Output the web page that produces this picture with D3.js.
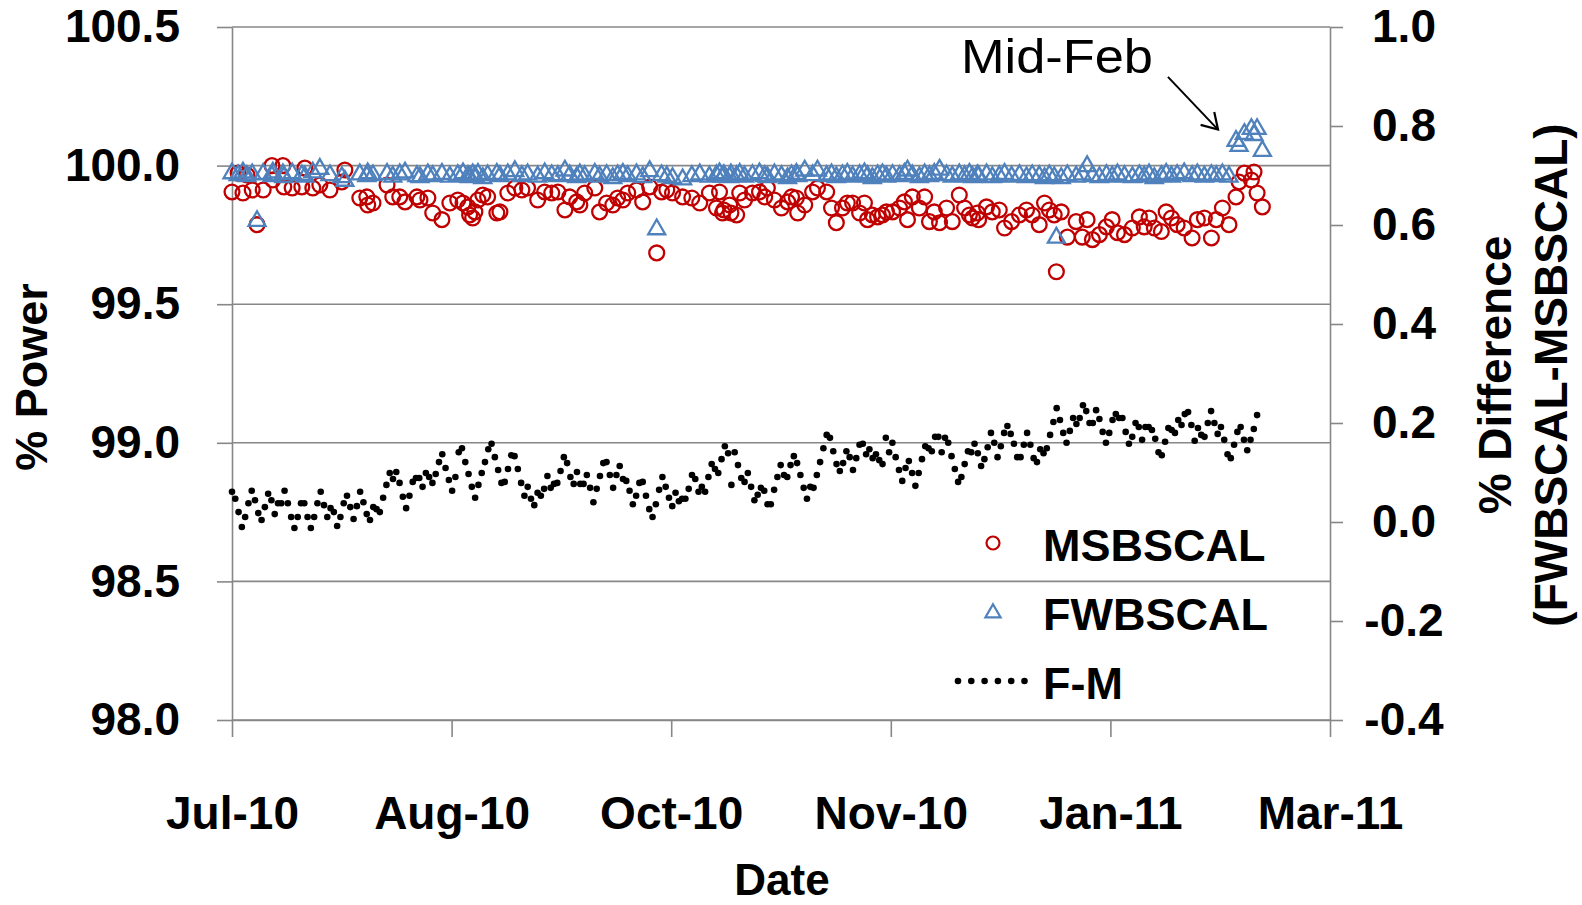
<!DOCTYPE html>
<html>
<head>
<meta charset="utf-8">
<script src="https://cdn.jsdelivr.net/npm/d3@7"></script>
<style>
  body { margin: 0; background: #fff; }
  text { font-family: "Liberation Sans", Arial, sans-serif; }
</style>
</head>
<body>
<div id="chart"></div>
<script>
// Series names (legend order)
const seriesNames = ["MSBSCAL", "FWBSCAL", "F-M"];

// X axis ticks (Excel date axis, 50 day steps)
const xTickDates = ["2010-07-01", "2010-08-20", "2010-10-09", "2010-11-28", "2011-01-17", "2011-03-08"];
const leftTicks = [98.0, 98.5, 99.0, 99.5, 100.0, 100.5];
const rightTicks = [-0.4, -0.2, 0.0, 0.2, 0.4, 0.6, 0.8, 1.0];

// Days since 1 Jul 2010 for the MSBSCAL / FWBSCAL readings
const dayOffsets = [
  0.0, 1.4, 2.5, 3.4, 4.6, 5.7, 7.1, 9.1, 9.3, 11.6, 11.8, 13.7, 15.9, 16.6, 18.4, 20.0,
  22.3, 25.0, 25.7, 29.1, 30.7, 30.9, 32.1, 35.3, 36.6, 38.2, 39.4, 42.1, 42.8, 44.6, 45.7,
  47.8, 49.6, 51.4, 52.6, 53.7, 54.1, 54.8, 55.3, 56.0, 57.1, 58.2, 60.3, 61.0, 62.8, 64.4,
  66.0, 67.3, 69.6, 71.2, 72.8, 74.2, 75.8, 76.9, 78.5, 79.2, 80.3, 82.6, 83.7, 85.3, 86.7,
  87.8, 89.0, 90.1, 92.1, 93.5, 95.1, 96.7, 97.8, 99.0, 100.3, 102.6, 104.7, 106.5, 108.7,
  110.3, 111.0, 111.7, 112.0, 113.3, 113.6, 114.9, 115.6, 116.7, 118.5, 120.1, 121.3, 121.9,
  123.5, 125.1, 126.5, 127.4, 128.5, 128.8, 130.4, 132.2, 133.3, 135.4, 136.5, 137.6, 139.0,
  140.1, 141.3, 142.9, 144.0, 144.7, 145.8, 147.0, 148.1, 149.0, 150.4, 152.0, 153.1, 153.8,
  154.9, 156.5, 157.7, 158.8, 159.9, 161.1, 162.7, 164.0, 165.6, 166.8, 167.9, 168.6, 169.7,
  170.0, 171.8, 173.1, 174.7, 175.9, 177.5, 179.3, 180.9, 182.2, 183.8, 185.0, 186.1, 187.2,
  187.7, 188.8, 190.2, 192.2, 193.6, 194.7, 195.9, 197.5, 199.1, 200.4, 201.6, 203.2, 205.0,
  206.6, 207.7, 208.8, 210.0, 211.6, 212.7, 213.9, 215.2, 216.8, 218.6, 219.8, 221.4, 223.0,
  224.1, 225.5, 227.0, 228.6, 229.3, 230.5, 232.1, 232.7, 233.4, 234.6
];

// % Power, MSBSCAL
const msbscal = [
  99.905, 99.973, 99.901, 99.966, 99.912, 99.787, 99.912, 100.000, 99.948, 100.000, 99.923, 99.919, 99.923, 99.991, 99.919, 99.930,
  99.912, 99.941, 99.984, 99.883, 99.887, 99.858, 99.865, 99.930, 99.887, 99.887, 99.869, 99.887, 99.876, 99.883, 99.829,
  99.805, 99.865, 99.876, 99.865, 99.851, 99.822, 99.811, 99.833, 99.876, 99.894, 99.887, 99.829, 99.833, 99.901, 99.919,
  99.912, 99.919, 99.876, 99.905, 99.901, 99.905, 99.840, 99.887, 99.869, 99.858, 99.901, 99.919, 99.833, 99.865, 99.858,
  99.883, 99.876, 99.901, 99.912, 99.869, 99.923, 99.685, 99.905, 99.912, 99.901, 99.887, 99.883, 99.865, 99.901,
  99.847, 99.905, 99.829, 99.840, 99.858, 99.829, 99.822, 99.901, 99.876, 99.901, 99.905, 99.887, 99.919,
  99.876, 99.847, 99.869, 99.887, 99.883, 99.829, 99.858, 99.905, 99.919, 99.905, 99.847, 99.794, 99.847,
  99.865, 99.865, 99.829, 99.865, 99.805, 99.822, 99.815, 99.822, 99.833, 99.833, 99.847, 99.869, 99.805,
  99.887, 99.847, 99.887, 99.798, 99.833, 99.794, 99.847, 99.798, 99.894, 99.847, 99.822, 99.811, 99.829,
  99.805, 99.851, 99.833, 99.840, 99.775, 99.798, 99.822, 99.840, 99.822, 99.787, 99.865, 99.840, 99.822,
  99.617, 99.833, 99.742, 99.798, 99.742, 99.805, 99.733, 99.751, 99.779, 99.805, 99.758, 99.751, 99.775,
  99.815, 99.779, 99.811, 99.775, 99.762, 99.833, 99.811, 99.787, 99.775, 99.739, 99.805, 99.811, 99.739,
  99.805, 99.847, 99.787, 99.887, 99.941, 99.973, 99.948, 99.977, 99.901, 99.851
];

// % Power, FWBSCAL
const fwbscal = [
  99.972, 99.965, 99.975, 99.962, 99.968, 99.800, 99.970, 99.962, 99.975, 99.968, 99.958, 99.972, 99.965, 99.960, 99.975, 99.988,
  99.965, 99.958, 99.945, 99.968, 99.962, 99.972, 99.965, 99.970, 99.960, 99.968, 99.975, 99.962, 99.958, 99.968, 99.962,
  99.970, 99.960, 99.966, 99.972, 99.962, 99.958, 99.968, 99.962, 99.970, 99.955, 99.965, 99.970, 99.962, 99.968, 99.980,
  99.962, 99.968, 99.960, 99.972, 99.965, 99.962, 99.982, 99.965, 99.958, 99.968, 99.962, 99.970, 99.960, 99.966, 99.955,
  99.965, 99.970, 99.962, 99.968, 99.958, 99.980, 99.770, 99.965, 99.960, 99.955, 99.950, 99.962, 99.968, 99.960,
  99.965, 99.972, 99.960, 99.966, 99.958, 99.968, 99.962, 99.970, 99.960, 99.966, 99.972, 99.962, 99.958,
  99.968, 99.962, 99.955, 99.965, 99.970, 99.962, 99.982, 99.965, 99.982, 99.962, 99.968, 99.958, 99.965,
  99.970, 99.960, 99.966, 99.972, 99.962, 99.955, 99.965, 99.968, 99.960, 99.966, 99.962, 99.970, 99.982,
  99.965, 99.958, 99.968, 99.962, 99.970, 99.985, 99.965, 99.960, 99.968, 99.962, 99.970, 99.958, 99.965,
  99.962, 99.968, 99.958, 99.962, 99.970, 99.960, 99.966, 99.958, 99.965, 99.962, 99.955, 99.965, 99.958,
  99.740, 99.955, 99.965, 99.960, 99.968, 99.998, 99.962, 99.958, 99.966, 99.960, 99.968, 99.962, 99.958,
  99.965, 99.960, 99.968, 99.955, 99.962, 99.970, 99.960, 99.966, 99.972, 99.962, 99.968, 99.960, 99.966,
  99.962, 99.968, 99.960, 100.089, 100.071, 100.114, 100.132, 100.110, 100.132, 100.053
];

// % Difference (F-M), readings in time order from 1 Jul 2010 to fmLastDay
const fmLastDay = 233.4;
const fmValues = [
  0.061, 0.047, 0.020, -0.010, 0.010, 0.038, 0.063, 0.044, 0.018, 0.004,
  0.030, 0.057, 0.044, 0.016, 0.038, 0.038, 0.063, 0.038, 0.010, -0.012,
  0.010, 0.038, 0.038, 0.010, -0.012, 0.010, 0.038, 0.061, 0.034, 0.010,
  0.028, 0.020, -0.008, 0.010, 0.038, 0.053, 0.030, 0.006, 0.032, 0.061,
  0.040, 0.016, 0.004, 0.030, 0.026, 0.020, 0.049, 0.075, 0.099, 0.087,
  0.101, 0.079, 0.051, 0.028, 0.053, 0.081, 0.089, 0.089, 0.071, 0.099,
  0.091, 0.079, 0.097, 0.121, 0.137, 0.109, 0.085, 0.063, 0.091, 0.141,
  0.149, 0.121, 0.097, 0.071, 0.049, 0.075, 0.099, 0.121, 0.147, 0.158,
  0.131, 0.105,
  0.079, 0.081, 0.107, 0.135, 0.133, 0.107, 0.079, 0.053, 0.071, 0.047,
  0.034, 0.059, 0.053, 0.067, 0.093, 0.069, 0.077, 0.079, 0.103, 0.131,
  0.119, 0.091, 0.077, 0.101, 0.077, 0.077, 0.095, 0.069, 0.040, 0.067,
  0.093, 0.119, 0.121, 0.095, 0.069, 0.095, 0.113, 0.087, 0.083, 0.063,
  0.036, 0.053, 0.079, 0.081, 0.053, 0.026, 0.010, 0.036, 0.065, 0.091,
  0.071, 0.049, 0.032, 0.059, 0.042, 0.047, 0.047, 0.067, 0.095, 0.087,
  0.061, 0.071, 0.061, 0.091, 0.117, 0.107, 0.099, 0.127, 0.153, 0.139,
  0.075, 0.141, 0.115, 0.089, 0.081, 0.099, 0.071, 0.044, 0.055, 0.069,
  0.063, 0.036, 0.036, 0.065, 0.091, 0.115, 0.095, 0.091, 0.115, 0.133,
  0.119, 0.095, 0.069, 0.047, 0.071, 0.069, 0.095, 0.121, 0.149, 0.176,
  0.170, 0.143, 0.117, 0.103, 0.119, 0.143, 0.131, 0.105, 0.129, 0.156,
  0.158, 0.137, 0.147, 0.129, 0.137, 0.125, 0.117, 0.170, 0.141, 0.160,
  0.131, 0.105, 0.083, 0.109, 0.123, 0.099, 0.073, 0.099, 0.127, 0.153,
  0.149, 0.143, 0.172, 0.172, 0.141, 0.170, 0.160, 0.133, 0.107, 0.081,
  0.091, 0.117, 0.143, 0.141, 0.158, 0.139,
  0.113, 0.127, 0.151, 0.180, 0.160, 0.131, 0.153, 0.180, 0.194, 0.178,
  0.158, 0.131, 0.131, 0.156, 0.180, 0.156, 0.129, 0.121, 0.147, 0.139,
  0.149, 0.176, 0.202, 0.230, 0.206, 0.180, 0.160, 0.184, 0.210, 0.198,
  0.210, 0.236, 0.224, 0.200, 0.200, 0.226, 0.208, 0.182, 0.160, 0.180,
  0.206, 0.218, 0.210, 0.210, 0.182, 0.158, 0.172, 0.200, 0.192, 0.166,
  0.192, 0.192, 0.186, 0.168, 0.141, 0.135, 0.162, 0.190, 0.186, 0.180,
  0.206, 0.196, 0.218, 0.222, 0.196, 0.164, 0.190, 0.176, 0.172, 0.200,
  0.224, 0.200, 0.178, 0.192, 0.166, 0.137, 0.129, 0.156, 0.182, 0.192,
  0.166, 0.145, 0.166, 0.188, 0.216
];

// "Mid-Feb" arrow, in data units (day offset, % power)
const note = { text: "Mid-Feb", tailDay: 213.1, tailValue: 100.32, tipDay: 224.5, tipValue: 100.13 };

// Layout
const width = 1582, height = 905;
const plot = { left: 232, right: 1330, top: 27, bottom: 720 };
const gridColor = "#878787";
const redColor = "#C00000", blueColor = "#4F81BD";
const fontSize = 46;

const svg = d3.select("#chart")
  .append("svg")
  .attr("width", width)
  .attr("height", height)
  .style("background", "#fff");

const startTime = Date.UTC(2010, 6, 1);
const toDate = day => new Date(startTime + day * 864e5);

// Scales
const x = d3.scaleUtc()
  .domain([new Date(xTickDates[0]), new Date(xTickDates[xTickDates.length - 1])])
  .range([plot.left, plot.right]);

const yLeft = d3.scaleLinear()
  .domain([98, 100.5])
  .range([plot.bottom, plot.top]);

const yRight = d3.scaleLinear()
  .domain([-0.4, 1.0])
  .range([plot.bottom, plot.top]);

// Gridlines
svg.append("g")
  .selectAll("line")
  .data(leftTicks)
  .join("line")
  .attr("x1", plot.left)
  .attr("x2", plot.right)
  .attr("y1", d => yLeft(d))
  .attr("y2", d => yLeft(d))
  .attr("stroke", gridColor)
  .attr("stroke-width", 1.6);

function styleAxis(g) {
  g.attr("font-family", null).attr("font-size", null);
  g.selectAll("path, line").attr("stroke", gridColor).attr("stroke-width", 1.6);
  g.selectAll("text")
    .attr("fill", "#000")
    .style("font-size", fontSize + "px")
    .style("font-weight", "bold");
}

// Left axis
svg.append("g")
  .attr("transform", `translate(${plot.left},0)`)
  .call(d3.axisLeft(yLeft)
    .tickValues(leftTicks)
    .tickFormat(d => d.toFixed(1))
    .tickSize(15)
    .tickSizeOuter(0)
    .tickPadding(37))
  .call(styleAxis);

// Right axis
const rightAxis = svg.append("g")
  .attr("transform", `translate(${plot.right},0)`)
  .call(d3.axisRight(yRight)
    .tickValues(rightTicks)
    .tickFormat(d => d.toFixed(1))
    .tickSize(13)
    .tickSizeOuter(0))
  .call(styleAxis);
rightAxis.selectAll("text")
  .attr("x", 74)
  .attr("text-anchor", "middle");

// Bottom axis
const bottomAxis = svg.append("g")
  .attr("transform", `translate(0,${plot.bottom})`)
  .call(d3.axisBottom(x)
    .tickValues(xTickDates.map(d => new Date(d)))
    .tickFormat(d3.utcFormat("%b-%y"))
    .tickSize(17)
    .tickSizeOuter(0))
  .call(styleAxis);
bottomAxis.selectAll("text").attr("y", 76);

// Axis titles
svg.append("text")
  .attr("transform", "translate(31,377) rotate(-90)")
  .attr("text-anchor", "middle")
  .attr("dy", "0.35em")
  .style("font-size", "45px")
  .style("font-weight", "bold")
  .text("% Power");

svg.append("text")
  .attr("x", 782)
  .attr("y", 895)
  .attr("text-anchor", "middle")
  .style("font-size", "44px")
  .style("font-weight", "bold")
  .text("Date");

svg.append("text")
  .attr("transform", "translate(1495,375) rotate(-90)")
  .attr("text-anchor", "middle")
  .attr("dy", "0.35em")
  .style("font-size", fontSize + "px")
  .style("font-weight", "bold")
  .text("% Difference");

svg.append("text")
  .attr("transform", "translate(1551,375) rotate(-90)")
  .attr("text-anchor", "middle")
  .attr("dy", "0.35em")
  .style("font-size", fontSize + "px")
  .style("font-weight", "bold")
  .text("(FWBSCAL-MSBSCAL)");

// Series data
const msData = dayOffsets.map((d, i) => ({ date: toDate(d), value: msbscal[i] }));
const fwData = dayOffsets.map((d, i) => ({ date: toDate(d), value: fwbscal[i] }));
const fmData = fmValues.map((v, i) => ({ date: toDate(i * fmLastDay / (fmValues.length - 1)), value: v }));

const triangle = d3.symbol().type(d3.symbolTriangle).size(125);

// MSBSCAL circles
svg.append("g")
  .selectAll("circle")
  .data(msData)
  .join("circle")
  .attr("cx", d => x(d.date))
  .attr("cy", d => yLeft(d.value))
  .attr("r", 7.4)
  .attr("fill", "none")
  .attr("stroke", redColor)
  .attr("stroke-width", 2.3);

// FWBSCAL triangles
svg.append("g")
  .selectAll("path")
  .data(fwData)
  .join("path")
  .attr("d", triangle)
  .attr("transform", d => `translate(${x(d.date)},${yLeft(d.value)})`)
  .attr("fill", "none")
  .attr("stroke", blueColor)
  .attr("stroke-width", 2.3);

// F-M dots (right axis)
svg.append("g")
  .selectAll("circle")
  .data(fmData)
  .join("circle")
  .attr("cx", d => x(d.date))
  .attr("cy", d => yRight(d.value))
  .attr("r", 3.3)
  .attr("fill", "#000");

// Legend
const legend = svg.append("g").attr("transform", "translate(993,0)");
const legendRows = [543, 612, 681];

legend.append("circle")
  .attr("cx", 0).attr("cy", legendRows[0]).attr("r", 6.5)
  .attr("fill", "none").attr("stroke", redColor).attr("stroke-width", 2.2);

legend.append("path")
  .attr("d", d3.symbol().type(d3.symbolTriangle).size(100)())
  .attr("transform", `translate(0,${legendRows[1] + 1})`)
  .attr("fill", "none").attr("stroke", blueColor).attr("stroke-width", 2.2);

legend.append("g")
  .selectAll("circle")
  .data(d3.range(6))
  .join("circle")
  .attr("cx", i => -35 + i * 13.3)
  .attr("cy", legendRows[2])
  .attr("r", 3.3)
  .attr("fill", "#000");

legend.selectAll("text")
  .data(seriesNames)
  .join("text")
  .attr("x", 50)
  .attr("y", (d, i) => legendRows[i] + 18)
  .style("font-size", "45px")
  .style("font-weight", "bold")
  .text(d => d);

// Mid-Feb annotation
const tailX = x(toDate(note.tailDay)), tailY = yLeft(note.tailValue);
const tipX = x(toDate(note.tipDay)), tipY = yLeft(note.tipValue);

svg.append("line")
  .attr("x1", tailX).attr("y1", tailY)
  .attr("x2", tipX).attr("y2", tipY)
  .attr("stroke", "#000")
  .attr("stroke-width", 2);

// open arrow head
const ang = Math.atan2(tipY - tailY, tipX - tailX);
const headLen = 18;
svg.append("path")
  .attr("d", d3.line()([
    [tipX - headLen * Math.cos(ang - 0.55), tipY - headLen * Math.sin(ang - 0.55)],
    [tipX, tipY],
    [tipX - headLen * Math.cos(ang + 0.55), tipY - headLen * Math.sin(ang + 0.55)]
  ]))
  .attr("fill", "none")
  .attr("stroke", "#000")
  .attr("stroke-width", 2.2);

svg.append("text")
  .attr("x", tailX - 15)
  .attr("y", tailY - 4)
  .attr("text-anchor", "end")
  .attr("textLength", 192)
  .attr("lengthAdjust", "spacingAndGlyphs")
  .style("font-size", "48px")
  .text(note.text);
</script>
</body>
</html>
